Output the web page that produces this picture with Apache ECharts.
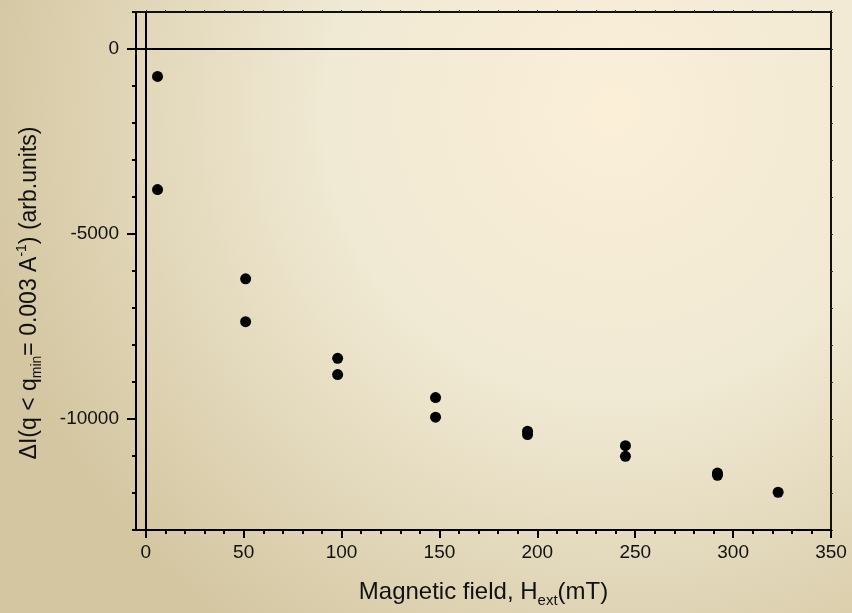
<!DOCTYPE html>
<html>
<head>
<meta charset="utf-8">
<script src="https://cdn.jsdelivr.net/npm/echarts@6/dist/echarts.min.js"></script>
<style>
html,body{margin:0;padding:0;}
#chart{width:852px;height:613px;}
</style>
</head>
<body>
<div id="chart"></div>
<script>
// Data
var fieldValues = [6, 6, 51, 51, 98, 98, 148, 148, 195, 195, 245, 245, 292, 292, 323];
var intensityValues = [-740, -3800, -6210, -7370, -8360, -8800, -9420, -9950, -10330, -10420, -10720, -11010, -11460, -11520, -11980];
var xTickLabels = [0, 50, 100, 150, 200, 250, 300, 350];
var yTickLabels = [-10000, -5000, 0];
var xMinorTicks = [];
for (var v = 0; v <= 350; v += 10) xMinorTicks.push(v);
var yMinorTicks = [];
for (var w = -13000; w <= 1000; w += 1000) yMinorTicks.push(w);

var points = fieldValues.map(function (x, i) { return [x, intensityValues[i]]; });

var FONT = 'Arial, "Liberation Sans", sans-serif';
var chart = echarts.init(document.getElementById('chart'));

var xBase = { type: 'value', min: -5, max: 350, splitLine: { show: false } };
var yBase = { type: 'value', min: -13000, max: 1000, splitLine: { show: false } };

chart.setOption({
  animation: false,
  backgroundColor: {
    type: 'radial', x: 0.72, y: 0.18, r: 1.05,
    colorStops: [
      { offset: 0, color: '#fbefd8' },
      { offset: 0.45, color: '#f0e9d3' },
      { offset: 1, color: '#d4c6a1' }
    ]
  },
  grid: { left: 136, right: 21, top: 12, bottom: 82, containLabel: false },
  xAxis: [
    Object.assign({}, xBase, {
      position: 'bottom',
      axisLine: { show: true, onZero: false, lineStyle: { color: '#000', width: 2 } },
      axisTick: { show: true, customValues: xTickLabels, length: 8, inside: false, lineStyle: { color: '#000', width: 2 } },
      axisLabel: { show: true, customValues: xTickLabels, margin: 13, fontSize: 19, color: '#111', fontFamily: FONT,
        formatter: function (val) { return String(val); } },
      name: 'Magnetic field, H{sub|ext}(mT)',
      nameLocation: 'middle',
      nameGap: 47,
      nameTextStyle: {
        fontSize: 24, color: '#111', fontFamily: FONT,
        rich: { sub: { fontSize: 15, verticalAlign: 'bottom', padding: [16, 0, 0, 0], color: '#111', fontFamily: FONT } }
      }
    }),
    Object.assign({}, xBase, {
      position: 'bottom',
      axisLine: { show: false, onZero: false },
      axisTick: { show: true, customValues: xMinorTicks, length: 4, lineStyle: { color: '#000', width: 2 } },
      axisLabel: { show: false }
    }),
    Object.assign({}, xBase, {
      position: 'top',
      axisLine: { show: true, onZero: false, lineStyle: { color: '#111', width: 2 } },
      axisTick: { show: true, customValues: xMinorTicks, length: 2, lineStyle: { color: '#333', width: 1 } },
      axisLabel: { show: false }
    })
  ],
  yAxis: [
    Object.assign({}, yBase, {
      position: 'left',
      axisLine: { show: true, onZero: false, lineStyle: { color: '#000', width: 2 } },
      axisTick: { show: true, customValues: yTickLabels, length: 9, lineStyle: { color: '#000', width: 2 } },
      axisLabel: { show: true, customValues: yTickLabels, margin: 17, fontSize: 19, color: '#111', fontFamily: FONT,
        formatter: function (val) { return String(val); } }
    }),
    Object.assign({}, yBase, {
      position: 'left',
      axisLine: { show: false, onZero: false },
      axisTick: { show: true, customValues: yMinorTicks, length: 4, lineStyle: { color: '#000', width: 2 } },
      axisLabel: { show: false }
    }),
    Object.assign({}, yBase, {
      position: 'right',
      axisLine: { show: true, onZero: false, lineStyle: { color: '#111', width: 2 } },
      axisTick: { show: true, customValues: yMinorTicks, length: 2, lineStyle: { color: '#333', width: 1 } },
      axisLabel: { show: false }
    })
  ],
  graphic: [{
    type: 'text',
    x: 30, y: 293,
    rotation: Math.PI / 2,
    silent: true,
    style: {
      text: '\u0394I(q < q{sub|min}= 0.003 A{sup|-1}) (arb.units)',
      fontSize: 23, fill: '#111', fontFamily: FONT,
      align: 'center', verticalAlign: 'middle',
      rich: {
        sub: { fontSize: 14, verticalAlign: 'bottom', padding: [15, 0, 0, 0], fill: '#111', fontFamily: FONT },
        sup: { fontSize: 14, verticalAlign: 'top', padding: [0, 0, 13, 0], fill: '#111', fontFamily: FONT }
      }
    }
  }],
  series: [{
    type: 'scatter',
    xAxisIndex: 0,
    yAxisIndex: 0,
    data: points,
    symbol: 'circle',
    symbolSize: 11,
    itemStyle: { color: '#000', opacity: 1 },
    markLine: {
      silent: true,
      symbol: ['none', 'none'],
      label: { show: false },
      lineStyle: { color: '#000', width: 2, type: 'solid' },
      data: [{ xAxis: 0 }, { yAxis: 0 }]
    }
  }]
});
</script>
</body>
</html>
